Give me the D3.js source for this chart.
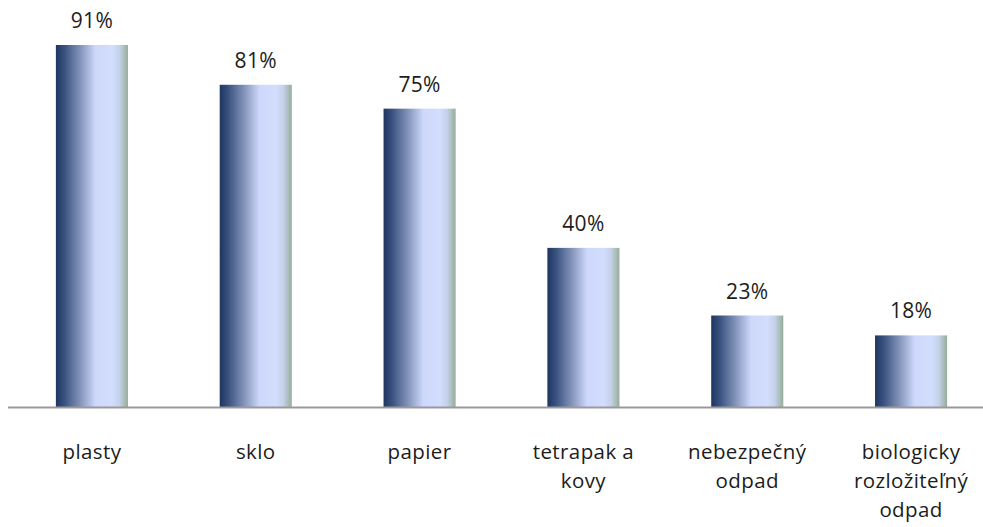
<!DOCTYPE html>
<html>
<head>
<meta charset="utf-8">
<script src="https://cdn.jsdelivr.net/npm/d3@7"></script>
<style>
  html, body { margin: 0; padding: 0; background: #fff; }
  svg { display: block; }
  text { font-family: "Open Sans", "Noto Sans", sans-serif; fill: #1c1c1c; }
</style>
</head>
<body>
<svg id="chart" width="983" height="527"></svg>
<script>
// Share of respondents who sort each kind of waste
const categories = [
  ["plasty"],
  ["sklo"],
  ["papier"],
  ["tetrapak a", "kovy"],
  ["nebezpečný", "odpad"],
  ["biologicky", "rozložiteľný", "odpad"]
];
const values = [91, 81, 75, 40, 23, 18];

const svg = d3.select("#chart");
const baseY = 407;

const x = d3.scaleBand()
  .domain(d3.range(values.length))
  .range([10, 993])
  .paddingInner(0.56)
  .paddingOuter(0.28);

const y = d3.scaleLinear()
  .domain([0, 100])
  .range([baseY, baseY - 397.8]);

// Horizontal cylinder-like shading across each bar
const defs = svg.append("defs");
const grad = defs.append("linearGradient")
  .attr("id", "barGrad")
  .attr("x1", "0%").attr("x2", "100%")
  .attr("y1", "0%").attr("y2", "0%");
[
  [0.00, "#1e3560"],
  [0.12, "#3a5280"],
  [0.35, "#8797bd"],
  [0.55, "#cdd8fb"],
  [0.78, "#d3ddfd"],
  [0.88, "#c5d2ea"],
  [1.00, "#97ad99"]
].forEach(([o, c]) => grad.append("stop").attr("offset", o).attr("stop-color", c));

svg.append("g").selectAll("rect")
  .data(values)
  .join("rect")
  .attr("x", (d, i) => x(i))
  .attr("y", d => y(d))
  .attr("width", x.bandwidth())
  .attr("height", d => baseY - y(d))
  .attr("fill", "url(#barGrad)");

// Baseline
svg.append("line")
  .attr("x1", 8).attr("x2", 983)
  .attr("y1", baseY + 0.5).attr("y2", baseY + 0.5)
  .attr("stroke", "#999")
  .attr("stroke-width", 2);

// Value labels
svg.append("g").selectAll("text")
  .data(values)
  .join("text")
  .attr("x", (d, i) => x(i) + x.bandwidth() / 2)
  .attr("y", d => y(d) - 17)
  .attr("text-anchor", "middle")
  .attr("font-size", 21)
  .attr("letter-spacing", 0.3)
  .text(d => d + "%");

// Category labels
const cat = svg.append("g").selectAll("text")
  .data(categories)
  .join("text")
  .attr("x", (d, i) => x(i) + x.bandwidth() / 2)
  .attr("y", 459)
  .attr("text-anchor", "middle")
  .attr("font-size", 20.5)
  .attr("letter-spacing", 0.4);
cat.selectAll("tspan")
  .data(d => d)
  .join("tspan")
  .attr("x", function () { return d3.select(this.parentNode).attr("x"); })
  .attr("dy", (d, i) => i === 0 ? 0 : 29)
  .text(d => d);
</script>
</body>
</html>
